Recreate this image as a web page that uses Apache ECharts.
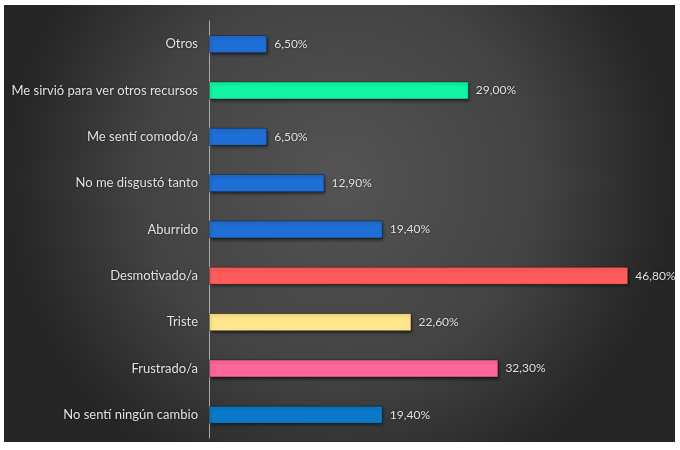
<!DOCTYPE html>
<html>
<head>
<meta charset="utf-8">
<script src="https://cdn.jsdelivr.net/npm/echarts@6/dist/echarts.min.js"></script>
<style>
  html, body { margin: 0; padding: 0; background: #ffffff; }
  #chart { position: absolute; left: 4px; top: 5px; width: 671px; height: 437px; }
</style>
</head>
<body>
<div id="chart"></div>
<script>
// Respuestas (de arriba hacia abajo)
const categories = [
  'Otros',
  'Me sirvió para ver otros recursos',
  'Me sentí comodo/a',
  'No me disgustó tanto',
  'Aburrido',
  'Desmotivado/a',
  'Triste',
  'Frustrado/a',
  'No sentí ningún cambio'
];
// Porcentaje de respuestas
const values = [6.5, 29.0, 6.5, 12.9, 19.4, 46.8, 22.6, 32.3, 19.4];
// Color de cada barra
const barColors = ['#1f6fd6', '#12f5a2', '#1f6fd6', '#1f6fd6', '#1f6fd6', '#ff5c5c', '#ffe68c', '#ff6699', '#0b78c9'];

const chart = echarts.init(document.getElementById('chart'));

const fmt = v => v.toFixed(2).replace('.', ',') + '%';

chart.setOption({
  backgroundColor: {
    type: 'radial', x: 0.5, y: 0.4, r: 0.75,
    colorStops: [
      { offset: 0, color: '#545454' },
      { offset: 0.6, color: '#434343' },
      { offset: 1, color: '#262626' }
    ]
  },
  grid: { left: 205, top: 16, height: 417, right: 18, containLabel: false },
  xAxis: {
    type: 'value', min: 0, max: 50,
    show: false
  },
  yAxis: {
    type: 'category',
    data: categories,
    inverse: true,
    axisLine: { show: true, lineStyle: { color: '#a8a8a8', width: 1 } },
    axisTick: { show: false },
    axisLabel: {
      color: '#e2e2e2', fontFamily: 'Lato, "Open Sans", sans-serif', fontSize: 13, margin: 11,
      textShadowColor: 'rgba(0,0,0,0.6)', textShadowBlur: 2
    }
  },
  series: [{
    type: 'bar',
    barWidth: 18,
    data: values.map((v, i) => ({
      value: v,
      itemStyle: {
        color: barColors[i],
        borderColor: 'rgba(0,0,0,0.35)',
        borderWidth: 1,
        shadowColor: 'rgba(0,0,0,0.55)',
        shadowBlur: 3,
        shadowOffsetX: 1,
        shadowOffsetY: 2
      }
    })),
    label: {
      show: true, position: 'right', distance: 7,
      color: '#e2e2e2', fontFamily: 'Lato, "Open Sans", sans-serif', fontSize: 12,
      textShadowColor: 'rgba(0,0,0,0.6)', textShadowBlur: 2,
      formatter: p => fmt(p.value)
    },
    animation: false
  }]
});
</script>
</body>
</html>
